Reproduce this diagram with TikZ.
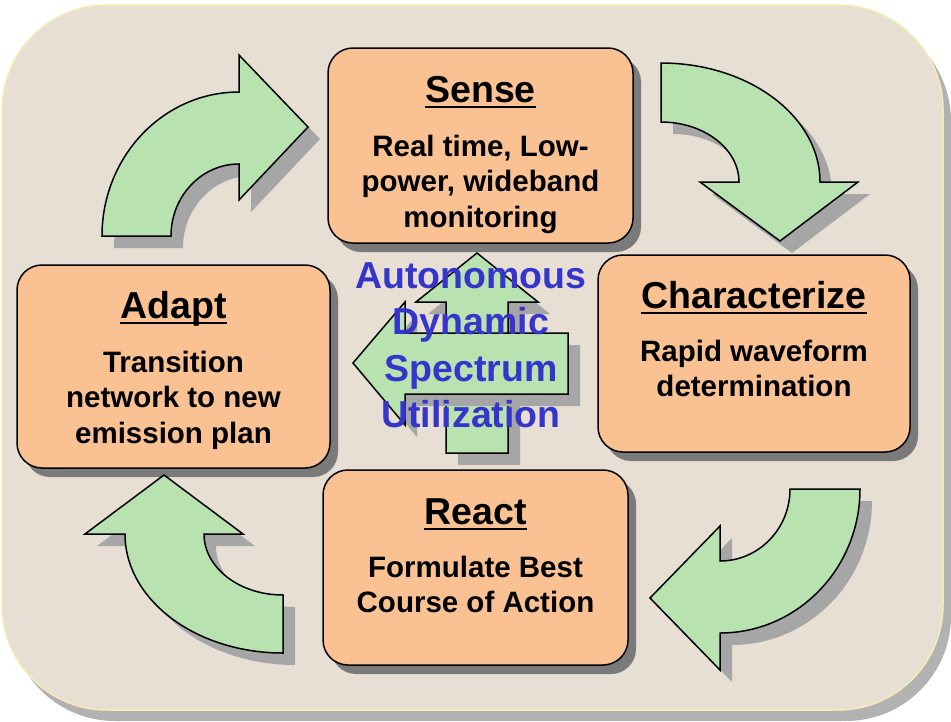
\documentclass[tikz,border=0pt]{standalone}
\usepackage{fontspec}
\setmainfont{Liberation Sans}
\usetikzlibrary{positioning,shadows}

\definecolor{boxorange}{HTML}{FAC292}
\definecolor{arrowgreen}{HTML}{B8E2B0}
\definecolor{hubblue}{HTML}{3535CC}
\definecolor{paper}{HTML}{E7DFD3}
\definecolor{paperedge}{HTML}{F3EDB5}

\tikzset{
  stage/.style={draw=black, line width=1.5pt, fill=boxorange, rounded corners=25pt,
    minimum width=305pt, minimum height=195pt,
    drop shadow={shadow xshift=8pt, shadow yshift=-9pt, fill=black!52, opacity=1}},
  stagetitle/.style={anchor=base, inner sep=0pt,
    font=\fontsize{37.5}{40}\selectfont\bfseries},
  % multi-line texts: base is the baseline of the last line
  stagetext/.style={anchor=base, inner sep=0pt, align=center,
    font=\fontsize{29.5}{35.5}\selectfont\bfseries},
  bigarrow/.style={draw=black, line width=1.5pt, fill=arrowgreen,
    drop shadow={shadow xshift=12pt, shadow yshift=-12pt, fill=black!35, opacity=1}},
  hubtext/.style={anchor=base, inner sep=0pt, align=center, text=hubblue,
    font=\fontsize{37.5}{46.5}\selectfont\bfseries}
}

\begin{document}
\begin{tikzpicture}[x=1pt, y=-1pt]
  \useasboundingbox (0,0) rectangle (951,721);
  % backdrop
  \fill[black!30, rounded corners=105pt] (10,16) rectangle (951,721);
  \draw[paperedge, line width=1.5pt, fill=paper, rounded corners=105pt]
    (2,5) rectangle (943,710);

  % the four stages
  \node[stage] (sense) at (480.5,145.5) {};
  \node[stage, minimum width=312pt, minimum height=197pt] (charz) at (754,353.5) {};
  \node[stage] (react) at (475.5,567.5) {};
  \node[stage, minimum width=313pt, minimum height=203pt] (adapt) at (173.5,366.5) {};

  \node[stagetitle] (sense-ttl) at ([yshift=-55pt]sense.north) {Sense};
  \node[stagetext] (sense-txt) at ([yshift=-180pt]sense.north)
    {Real time, Low-\\power, wideband\\monitoring};
  \node[stagetitle] (charz-ttl) at ([yshift=-54pt]charz.north) {Characterize};
  \node[stagetext] (charz-txt) at ([yshift=-142.5pt]charz.north)
    {Rapid waveform\\determination};
  \node[stagetitle] (react-ttl) at ([yshift=-55pt]react.north) {React};
  \node[stagetext] (react-txt) at ([yshift=-143.5pt]react.north)
    {Formulate Best\\Course of Action};
  \node[stagetitle] (adapt-ttl) at ([yshift=-54pt]adapt.north) {Adapt};
  \node[stagetext] (adapt-txt) at ([yshift=-179pt]adapt.north)
    {Transition\\network to new\\emission plan};

  % underline the titles
  \foreach \s in {sense,charz,react,adapt}
    \draw[line width=2.2pt] ([yshift=-5pt]\s-ttl.base west) -- ([yshift=-5pt]\s-ttl.base east);

  % curved arrows round the cycle
  \draw[bigarrow] (102,236) arc[start angle=180, end angle=270, x radius=137, y radius=144]
    -- (239,55) -- (308,127) -- (239,200) -- (239,164)
    arc[start angle=270, end angle=180, x radius=68, y radius=72] -- cycle;
  \draw[bigarrow] (661,63) arc[start angle=270, end angle=360, x radius=159, y radius=119]
    -- (858,182) -- (780,241) -- (700,182) -- (739,182)
    arc[start angle=0, end angle=-90, x radius=78, y radius=60] -- cycle;
  \draw[bigarrow] (860,489) arc[start angle=0, end angle=90, x radius=140, y radius=144]
    -- (720,670) -- (650,598) -- (720,526) -- (720,561)
    arc[start angle=90, end angle=0, x radius=70, y radius=72] -- cycle;
  \draw[bigarrow] (283,653) arc[start angle=90, end angle=180, x radius=158, y radius=119]
    -- (85,534) -- (164,475) -- (243,534) -- (204,534)
    arc[start angle=180, end angle=90, x radius=79, y radius=61] -- cycle;

  % arrows in the middle
  \draw[bigarrow] (477,253) -- (538,302) -- (508,302) -- (508,453) -- (446,453)
    -- (446,302) -- (416,302) -- cycle;
  \draw[bigarrow] (353,363) -- (405,302) -- (405,333) -- (568,333) -- (568,394)
    -- (405,394) -- (405,425) -- cycle;
  \node[hubtext] (hub) at (471,427.5)
    {Autonomous\\Dynamic\\Spectrum\\Utilization};
\end{tikzpicture}
\end{document}
